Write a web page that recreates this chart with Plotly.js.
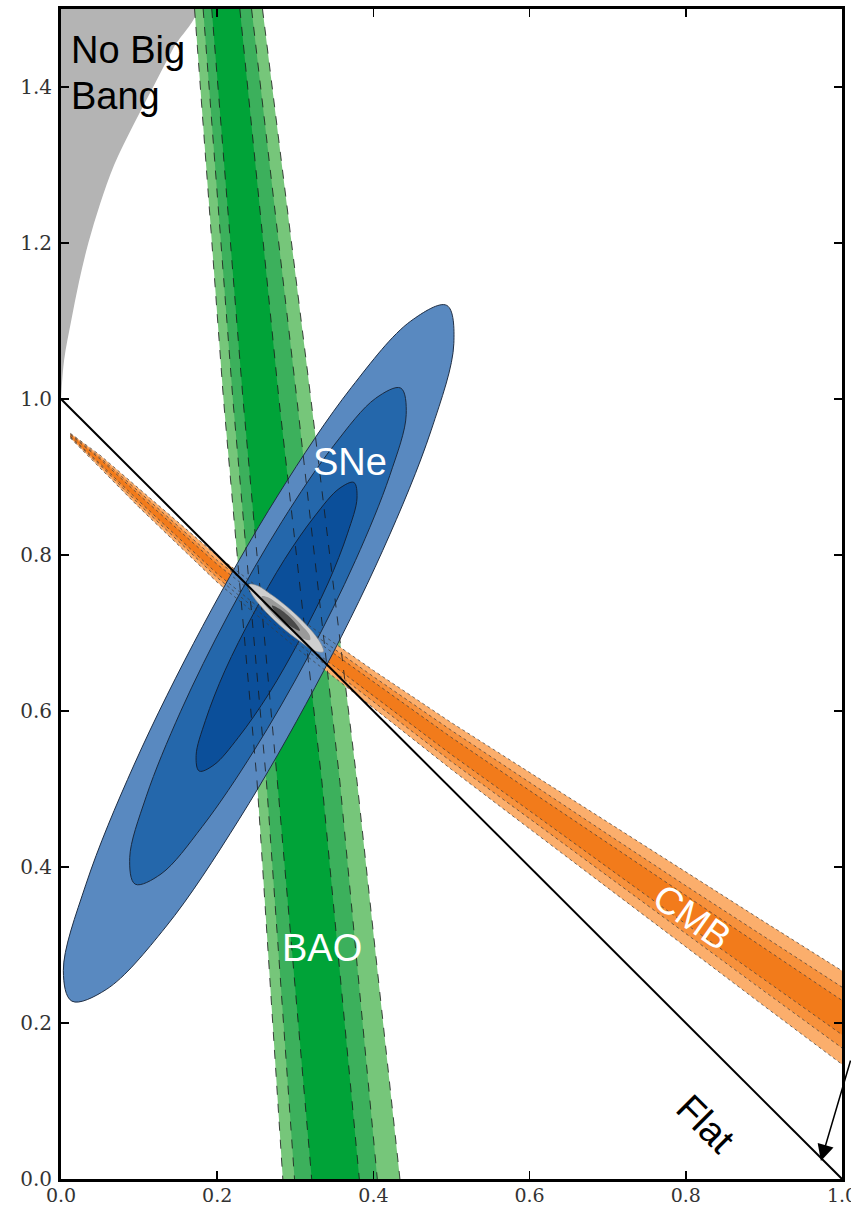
<!DOCTYPE html>
<html><head><meta charset="utf-8">
<script src="https://cdn.plot.ly/plotly-3.0.1.min.js"></script>
<style>html,body{margin:0;padding:0;background:#fff}#plot{width:851px;height:1209px}</style>
</head><body><div id="plot"></div>
<script>
// ---- No Big Bang boundary ----
const noBigBangX = [0.000, 0.004, 0.013, 0.023, 0.035, 0.050, 0.068, 0.092, 0.118, 0.144, 0.172];
const noBigBangY = [1.000, 1.050, 1.100, 1.150, 1.200, 1.250, 1.300, 1.350, 1.400, 1.450, 1.500];

// ---- BAO band: edge x-positions at given y levels ----
const baoY        = [1.50, 1.00, 0.51, 0.00];
const baoLightL   = [0.171, 0.208, 0.251, 0.284];
const baoMedL     = [0.182, 0.220, 0.263, 0.299];
const baoDarkL    = [0.193, 0.233, 0.277, 0.321];
const baoDarkR    = [0.229, 0.279, 0.334, 0.382];
const baoMedR     = [0.244, 0.302, 0.357, 0.405];
const baoLightR   = [0.258, 0.320, 0.379, 0.434];

// ---- CMB band: edge y-values at given x positions ----
const cmbX        = [0.012, 0.05, 0.10, 0.20, 0.30, 0.40, 0.50, 0.60, 0.70, 0.80, 0.90, 1.00];
const cmbLightUp  = [0.956, 0.928, 0.885, 0.799, 0.722, 0.652, 0.585, 0.521, 0.457, 0.393, 0.330, 0.267];
const cmbLightLo  = [0.950, 0.912, 0.861, 0.765, 0.682, 0.604, 0.525, 0.449, 0.373, 0.297, 0.222, 0.147];
const cmbMedUp    = [0.955, 0.925, 0.881, 0.793, 0.715, 0.644, 0.575, 0.508, 0.442, 0.376, 0.311, 0.246];
const cmbMedLo    = [0.951, 0.915, 0.865, 0.771, 0.689, 0.612, 0.535, 0.462, 0.388, 0.314, 0.241, 0.168];
const cmbDarkUp   = [0.954, 0.923, 0.877, 0.788, 0.709, 0.637, 0.566, 0.498, 0.431, 0.363, 0.296, 0.229];
const cmbDarkLo   = [0.952, 0.917, 0.869, 0.776, 0.695, 0.619, 0.544, 0.472, 0.399, 0.327, 0.256, 0.185];

// ---- SNe contours ----
const snOuterX = [0.181,0.094,0.032,0.003,0.014,0.058,0.134,0.228,0.325,0.412,0.474,0.503,0.494,0.448,0.372,0.278,0.181];
const snOuterY = [0.708,0.532,0.378,0.267,0.228,0.243,0.323,0.461,0.630,0.806,0.960,1.071,1.120,1.100,1.015,0.877,0.708];
const snMidX   = [0.214,0.153,0.109,0.088,0.095,0.128,0.181,0.247,0.316,0.377,0.421,0.442,0.435,0.403,0.349,0.283,0.214];
const snMidY   = [0.723,0.599,0.490,0.412,0.378,0.391,0.452,0.549,0.669,0.793,0.902,0.980,1.014,1.001,0.940,0.843,0.723];
const snInX    = [0.246,0.210,0.185,0.173,0.177,0.196,0.227,0.266,0.306,0.342,0.367,0.379,0.375,0.356,0.325,0.286,0.246];
const snInY    = [0.724,0.652,0.588,0.543,0.523,0.531,0.566,0.622,0.692,0.764,0.828,0.873,0.893,0.885,0.850,0.794,0.724];

// ---- Combined contours ----
const combOuterX = [0.296,0.271,0.251,0.240,0.243,0.257,0.280,0.305,0.325,0.336,0.333,0.319,0.296];
const combOuterY = [0.728,0.748,0.761,0.762,0.752,0.733,0.710,0.690,0.677,0.676,0.686,0.705,0.728];
const combMidX   = [0.293,0.277,0.264,0.257,0.258,0.268,0.283,0.299,0.312,0.319,0.318,0.308,0.293];
const combMidY   = [0.725,0.738,0.746,0.747,0.740,0.728,0.713,0.700,0.692,0.691,0.698,0.710,0.725];
const combInX    = [0.306,0.299,0.281,0.270,0.277,0.295,0.306];
const combInY    = [0.703,0.714,0.730,0.735,0.724,0.708,0.703];

// ---- Flat universe line ----
const flatX = [0, 1];
const flatY = [1, 0];

// ---- ticks ----
const xTicks = [0.0, 0.2, 0.4, 0.6, 0.8, 1.0];
const xTickText = ['0.0', '0.2', '0.4', '0.6', '0.8', '1.0'];
const yTicks = [0.0, 0.2, 0.4, 0.6, 0.8, 1.0, 1.2, 1.4];
const yTickText = ['0.0', '0.2', '0.4', '0.6', '0.8', '1.0', '1.2', '1.4'];

const rev = a => a.slice().reverse();
function fillPoly(x, y, color, lineColor, lineW, shape) {
  return {x: x, y: y, mode: 'lines', fill: 'toself', fillcolor: color,
    line: {color: lineColor || color, width: lineW || 0, shape: shape || 'linear', smoothing: 1},
    hoverinfo: 'skip', showlegend: false};
}
function edgeLine(x, y, color, dash) {
  return {x: x, y: y, mode: 'lines', line: {color: color, width: 1, dash: dash},
    hoverinfo: 'skip', showlegend: false};
}

const traces = [];
// No big bang
traces.push(fillPoly(noBigBangX.concat([0]), noBigBangY.concat([1.5]), '#b4b4b4', null, 0, 'spline'));
// BAO
traces.push(fillPoly(baoLightL.concat(rev(baoLightR)), baoY.concat(rev(baoY)), '#76c67a'));
traces.push(fillPoly(baoMedL.concat(rev(baoMedR)), baoY.concat(rev(baoY)), '#3cb05c'));
traces.push(fillPoly(baoDarkL.concat(rev(baoDarkR)), baoY.concat(rev(baoY)), '#00a338'));
// CMB
traces.push(fillPoly(cmbX.concat(rev(cmbX)), cmbLightUp.concat(rev(cmbLightLo)), '#fbae6c'));
traces.push(fillPoly(cmbX.concat(rev(cmbX)), cmbMedUp.concat(rev(cmbMedLo)), '#f7913c'));
traces.push(fillPoly(cmbX.concat(rev(cmbX)), cmbDarkUp.concat(rev(cmbDarkLo)), '#f27b1b'));
// SNe
traces.push(fillPoly(snOuterX, snOuterY, '#5989c0', '#1f2e44', 1, 'spline'));
traces.push(fillPoly(snMidX, snMidY, '#2467ab', '#1a2a40', 1, 'spline'));
traces.push(fillPoly(snInX, snInY, '#0b4f9a', '#13233a', 1, 'spline'));
// BAO dashed contour lines
[baoLightL, baoMedL, baoDarkL, baoDarkR, baoMedR, baoLightR].forEach(e =>
  traces.push(edgeLine(e, baoY, 'rgba(25,25,25,0.8)', 'dash')));
// CMB dotted contour lines
[cmbLightUp, cmbMedUp, cmbDarkUp, cmbDarkLo, cmbMedLo, cmbLightLo].forEach(e =>
  traces.push(edgeLine(cmbX, e, 'rgba(60,60,60,0.7)', 'dot')));
// Combined
traces.push(fillPoly(combOuterX, combOuterY, '#cfcfcf', '#888', 0.6, 'spline'));
traces.push(fillPoly(combMidX, combMidY, '#9a9a9a', '#9a9a9a', 0, 'spline'));
traces.push(fillPoly(combInX, combInY, '#4a4a4a', '#4a4a4a', 0, 'spline'));
// Flat
traces.push({x: flatX, y: flatY, mode: 'lines', line: {color: '#000', width: 2}, hoverinfo: 'skip', showlegend: false});

const labelFont = {family: 'Liberation Sans, Arial, sans-serif', size: 38};
const axisCommon = {
  ticks: 'inside', ticklen: 8, tickwidth: 1.5, tickcolor: '#000',
  showline: true, linewidth: 3, linecolor: '#000', mirror: 'allticks',
  showgrid: false, zeroline: false, fixedrange: true,
  ticklabeloverflow: 'allow'
};
const layout = {
  width: 851, height: 1209,
  margin: {l: 61, r: 9, t: 9, b: 30, pad: 0},
  paper_bgcolor: '#fff', plot_bgcolor: '#fff',
  showlegend: false, hovermode: false,
  xaxis: Object.assign({range: [0, 1], tickvals: xTicks, ticktext: xTickText, ticklabelstandoff: -3,
    tickfont: {family: 'DejaVu Serif, serif', size: 19, color: '#333'}}, axisCommon),
  yaxis: Object.assign({range: [0, 1.5], tickvals: yTicks, ticktext: yTickText, ticklabelstandoff: 2,
    tickfont: {family: 'DejaVu Serif, serif', size: 20, color: '#333'}}, axisCommon),
  annotations: [
    {x: 0.010, y: 1.447, xref: 'x', yref: 'y', text: 'No Big', showarrow: false, xanchor: 'left', yanchor: 'middle', font: Object.assign({color: '#000'}, labelFont)},
    {x: 0.010, y: 1.388, xref: 'x', yref: 'y', text: 'Bang', showarrow: false, xanchor: 'left', yanchor: 'middle', font: Object.assign({color: '#000'}, labelFont)},
    {x: 0.370, y: 0.919, xref: 'x', yref: 'y', text: 'SNe', showarrow: false, font: Object.assign({color: '#fff'}, labelFont)},
    {x: 0.334, y: 0.296, xref: 'x', yref: 'y', text: 'BAO', showarrow: false, font: Object.assign({color: '#fff'}, labelFont)},
    {x: 0.808, y: 0.336, xref: 'x', yref: 'y', text: 'CMB', showarrow: false, textangle: 35, font: Object.assign({color: '#fff'}, labelFont)},
    {x: 0.826, y: 0.071, xref: 'x', yref: 'y', text: 'Flat', showarrow: false, textangle: 45, font: Object.assign({color: '#000'}, labelFont)},
    {x: 0.973, y: 0.023, xref: 'x', yref: 'y', text: '', showarrow: true, ax: 32, ay: -102,
     arrowhead: 2, arrowsize: 2.2, arrowwidth: 1.5, arrowcolor: '#000', standoff: 0}
  ]
};
Plotly.newPlot('plot', traces, layout, {displayModeBar: false, staticPlot: true});
</script></body></html>
